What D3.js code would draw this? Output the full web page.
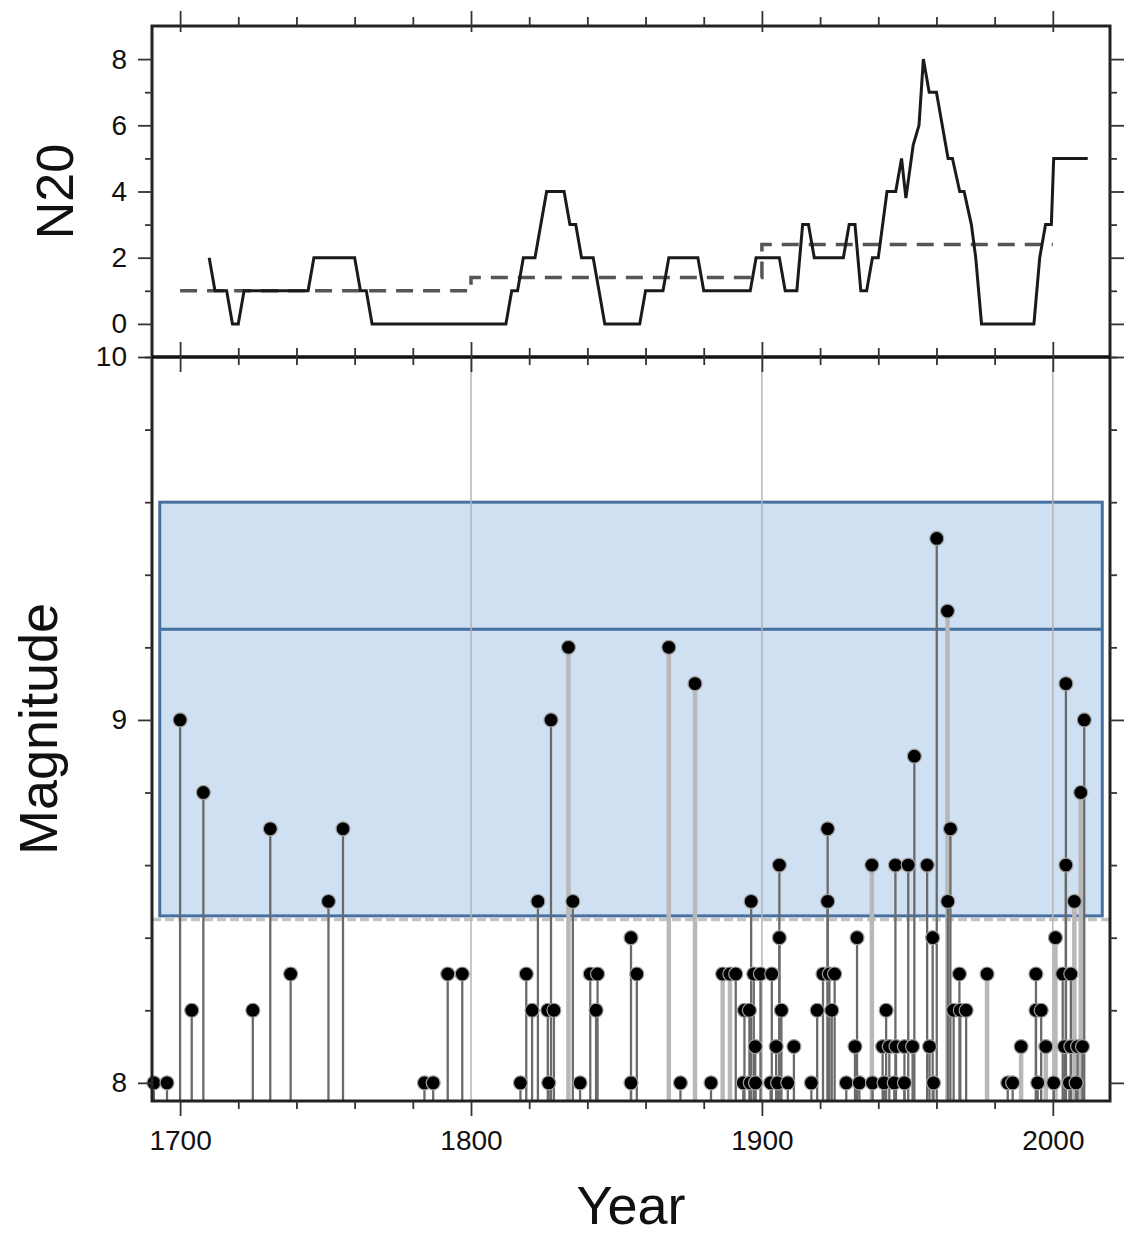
<!DOCTYPE html>
<html>
<head>
<meta charset="utf-8">
<script src="https://cdn.jsdelivr.net/npm/d3@7"></script>
<style>
  body { margin: 0; background: #fff; }
  svg { display: block; font-family: "Liberation Sans", Arial, sans-serif; }
</style>
</head>
<body>
<svg id="chart" width="1131" height="1241"></svg>
<script>
// N20 running count (top panel)
var n20Years  = [1710,1712,1716,1718,1720,1722,1744,1746,1760,1762,1764,1766,1812,1814,1816,1818,1822,1824,1826,1832,1834,1836,1838,1842,1844,1846,
                 1858,1860,1866,1868,1878,1880,1896,1898,1906,1908,1912,1914,1916,1918,1928,1930,1932,1934,1936,1938,1940,1943,1946,1948,1949.5,
                 1952,1954,1955.5,1957.5,1960,1964,1965.5,1968,1969.5,1972,1973.5,1974.5,1975.5,1993.5,1995.5,1997.5,1999.5,2000.3,2012];
var n20Values = [2,1,1,0,0,1,1,2,2,1,1,0,0,1,1,2,2,3,4,4,3,3,2,2,1,0,
                 0,1,1,2,2,1,1,2,2,1,1,3,3,2,2,3,3,1,1,2,2,4,4,5,3.8,
                 5.4,6,8,7,7,5,5,4,4,3,2,1,0,0,2,3,3,5,5];

// century means (dashed)
var meanYears  = [1700,1800,1800,1900,1900,2000];
var meanValues = [1,1,1.4,1.4,2.4,2.4];

// events M>=8 (bottom panel); shade "l" = light stem
var eventYears = [1691,1695.5,1700,1704,1708,1725,1731,1738,1751,1756,1784,1787,1792,1797,
                  1817,1819,1821,1823,1826.4,1826.7,1827.5,1828.5,1833.5,1835,1837.5,1841,1843,1843.5,1855,1855,1857,
                  1868,1872,1877,1882.5,1886.5,1889,1891,1893.6,1894,1895.7,1896,1896.3,1897.2,1897.7,1897.8,1899.5,
                  1903,1903.4,1904.9,1905.4,1906,1906,1906.7,1908.9,1911,1917,1919,1921,1922.6,1922.6,1923.2,1924,1925,
                  1929,1932,1932.7,1933.5,1937.8,1938,1941.5,1942,1942.7,1943.8,1945.5,1945.9,1946.1,1949,1949,1950.3,
                  1951.8,1952.4,1956.8,1957.6,1958.7,1959,1960.1,1963.8,1963.9,1964.8,1965.9,1967.9,1968.2,1970.2,1977.4,
                  1984.5,1986.2,1989.1,1994.2,1994.2,1994.8,1996,1997.6,2000.3,2000.9,2003.4,2004,2004.5,2004.5,2005.7,
                  2006.2,2006.2,2007.4,2008,2008.5,2009.6,2010.2,2010.8];
var eventMags  = [8.0,8.0,9.0,8.2,8.8,8.2,8.7,8.3,8.5,8.7,8.0,8.0,8.3,8.3,
                  8.0,8.3,8.2,8.5,8.2,8.0,9.0,8.2,9.2,8.5,8.0,8.3,8.2,8.3,8.4,8.0,8.3,
                  9.2,8.0,9.1,8.0,8.3,8.3,8.3,8.0,8.2,8.2,8.0,8.5,8.3,8.1,8.0,8.3,
                  8.0,8.3,8.1,8.0,8.6,8.4,8.2,8.0,8.1,8.0,8.2,8.3,8.7,8.5,8.3,8.2,8.3,
                  8.0,8.1,8.4,8.0,8.6,8.0,8.1,8.0,8.2,8.1,8.0,8.6,8.1,8.1,8.0,8.6,
                  8.1,8.9,8.6,8.1,8.4,8.0,9.5,9.3,8.5,8.7,8.2,8.3,8.2,8.2,8.3,
                  8.0,8.0,8.1,8.3,8.2,8.0,8.2,8.1,8.0,8.4,8.3,8.1,9.1,8.6,8.0,
                  8.3,8.1,8.5,8.0,8.1,8.8,8.1,9.0];
var eventShade = ["d","d","d","d","d","d","d","d","d","d","d","d","d","d",
                  "d","d","d","d","d","d","d","d","l","d","d","d","d","d","d","d","d",
                  "l","d","l","d","l","l","d","d","d","d","d","d","d","d","d","d",
                  "d","d","d","d","d","d","d","d","d","d","d","d","d","d","d","d","d",
                  "d","d","d","d","l","d","d","d","d","d","d","d","d","d","d","d",
                  "d","d","d","d","d","d","d","l","d","d","d","d","d","d","l",
                  "d","d","l","d","d","d","d","l","d","l","d","d","d","d","d",
                  "d","d","l","d","d","l","d","d"];

// shaded range and reference lines
var boxYears = [1693, 2017];
var boxMags  = [8.46, 9.6];
var boxMidMag = 9.25;
var cutMag = 8.45;
var gridYears = [1800, 1900, 2000];

var xMajor = [1700, 1800, 1900, 2000];
var xMinor = d3.range(1700, 2020, 20).filter(function(v){ return v % 100 != 0; });
var topMajor = [0, 2, 4, 6, 8];
var topMinor = [-1, 1, 3, 5, 7];
var botMajor = [8, 9, 10];
var botMinor = [8.2, 8.4, 8.6, 8.8, 9.2, 9.4, 9.6, 9.8];

var left = 152, right = 1110, topY = 26, midY = 357, botY = 1101;

var svg = d3.select("#chart");
var x = d3.scaleLinear().domain([1690, 2020]).range([left - 1, right + 1]);
var yTop = d3.scaleLinear().domain([-1, 9]).range([midY, topY]);
var yBot = d3.scaleLinear().domain([7.95, 10]).range([botY, midY]);

var events = eventYears.map(function(y, i) { return {year: y, mag: eventMags[i], shade: eventShade[i]}; });

// ---- bottom panel ----
svg.append("rect")
  .attr("x", x(boxYears[0])).attr("y", yBot(boxMags[1]))
  .attr("width", x(boxYears[1]) - x(boxYears[0]))
  .attr("height", yBot(boxMags[0]) - yBot(boxMags[1]))
  .style("fill", "#cfe0f2").style("stroke", "#45709f").style("stroke-width", 3);

svg.append("line")
  .attr("x1", x(boxYears[0])).attr("x2", x(boxYears[1]))
  .attr("y1", yBot(boxMidMag)).attr("y2", yBot(boxMidMag))
  .style("stroke", "#45709f").style("stroke-width", 3);

svg.append("line")
  .attr("x1", left).attr("x2", right)
  .attr("y1", yBot(cutMag)).attr("y2", yBot(cutMag))
  .style("stroke", "#c4c4c4").style("stroke-width", 3.5).style("stroke-dasharray", "9,4");

svg.selectAll("line.grid").data(gridYears).enter()
  .append("line").attr("class", "grid")
  .attr("x1", function(d) { return x(d); }).attr("x2", function(d) { return x(d); })
  .attr("y1", midY).attr("y2", botY)
  .style("stroke", "#b5b5b5").style("stroke-width", 1.5);

// stems: light ones first, dark on top
var ordered = events.filter(function(d){ return d.shade == "l"; })
  .concat(events.filter(function(d){ return d.shade == "d"; }));

svg.selectAll("line.stem").data(ordered).enter()
  .append("line").attr("class", "stem")
  .attr("x1", function(d) { return x(d.year); }).attr("x2", function(d) { return x(d.year); })
  .attr("y1", botY).attr("y2", function(d) { return yBot(d.mag); })
  .style("stroke", function(d) { return d.shade == "l" ? "#b8b8b8" : "#6a6a6a"; })
  .style("stroke-width", function(d) { return d.shade == "l" ? 4.5 : 2.3; });

svg.selectAll("circle.ev").data(events).enter()
  .append("circle").attr("class", "ev")
  .attr("cx", function(d) { return x(d.year); })
  .attr("cy", function(d) { return yBot(d.mag); })
  .attr("r", 7)
  .style("fill", "#000").style("stroke", "#a0a0a0").style("stroke-width", 1.2);

// ---- top panel ----
var n20 = n20Years.map(function(y, i) { return [y, n20Values[i]]; });
var means = meanYears.map(function(y, i) { return [y, meanValues[i]]; });
var line = d3.line().x(function(d) { return x(d[0]); }).y(function(d) { return yTop(d[1]); });

svg.append("path").datum(means).attr("d", line)
  .style("fill", "none").style("stroke", "#555").style("stroke-width", 3.5)
  .style("stroke-dasharray", "17,10");

svg.append("path").datum(n20).attr("d", line)
  .style("fill", "none").style("stroke", "#1a1a1a").style("stroke-width", 3);

// ---- frames ----
svg.append("rect").attr("x", left).attr("y", topY).attr("width", right - left).attr("height", botY - topY)
  .style("fill", "none").style("stroke", "#222").style("stroke-width", 3);
svg.append("line").attr("x1", left).attr("x2", right).attr("y1", midY).attr("y2", midY)
  .style("stroke", "#111").style("stroke-width", 3.5);

// ---- axes ----
function addAxis(axis, tx, ty, cls) {
  var g = svg.append("g").attr("class", cls).attr("transform", "translate(" + tx + "," + ty + ")").call(axis);
  g.select(".domain").remove();
  g.selectAll("line").style("stroke", "#333").style("stroke-width", 1.8);
  g.selectAll("text").style("font-size", "28px").style("fill", "#111")
    .style("font-family", "'Liberation Sans', Arial, sans-serif");
  return g;
}
var noLabel = function() { return ""; };

// x ticks: top edge, middle edge (crossing), bottom edge
addAxis(d3.axisTop(x).tickValues(xMajor).tickSize(21).tickFormat(noLabel), 0, topY + 6, "xa");
addAxis(d3.axisTop(x).tickValues(xMinor).tickSize(9).tickFormat(noLabel), 0, topY, "xa");
addAxis(d3.axisTop(x).tickValues(xMajor).tickSize(30).tickFormat(noLabel), 0, midY + 15, "xa");
addAxis(d3.axisTop(x).tickValues(xMinor).tickSize(17).tickFormat(noLabel), 0, midY + 8, "xa");
addAxis(d3.axisBottom(x).tickValues(xMajor).tickSize(15).tickPadding(14).tickFormat(d3.format("d")), 0, botY, "xa");
addAxis(d3.axisBottom(x).tickValues(xMinor).tickSize(8).tickFormat(noLabel), 0, botY, "xa");

// y ticks left/right
addAxis(d3.axisLeft(yTop).tickValues(topMajor).tickSize(14).tickPadding(11).tickFormat(d3.format("d")), left, 0, "ya");
addAxis(d3.axisLeft(yTop).tickValues(topMinor).tickSize(7).tickFormat(noLabel), left, 0, "ya");
addAxis(d3.axisRight(yTop).tickValues(topMajor).tickSize(14).tickFormat(noLabel), right, 0, "ya");
addAxis(d3.axisRight(yTop).tickValues(topMinor).tickSize(7).tickFormat(noLabel), right, 0, "ya");
addAxis(d3.axisLeft(yBot).tickValues(botMajor).tickSize(14).tickPadding(11).tickFormat(d3.format("d")), left, 0, "ya");
addAxis(d3.axisLeft(yBot).tickValues(botMinor).tickSize(7).tickFormat(noLabel), left, 0, "ya");
addAxis(d3.axisRight(yBot).tickValues(botMajor).tickSize(14).tickFormat(noLabel), right, 0, "ya");
addAxis(d3.axisRight(yBot).tickValues(botMinor).tickSize(7).tickFormat(noLabel), right, 0, "ya");

// ---- titles ----
svg.append("text").text("Year")
  .attr("x", (left + right) / 2).attr("y", 1224)
  .attr("text-anchor", "middle").style("font-size", "54px").style("fill", "#111");

svg.append("text").text("Magnitude")
  .attr("transform", "translate(57," + ((midY + botY) / 2) + ") rotate(-90)")
  .attr("text-anchor", "middle").style("font-size", "54px").style("fill", "#111");

svg.append("text").text("N20")
  .attr("transform", "translate(73," + ((topY + midY) / 2) + ") rotate(-90)")
  .attr("text-anchor", "middle").style("font-size", "52px").style("fill", "#111");
</script>
</body>
</html>
